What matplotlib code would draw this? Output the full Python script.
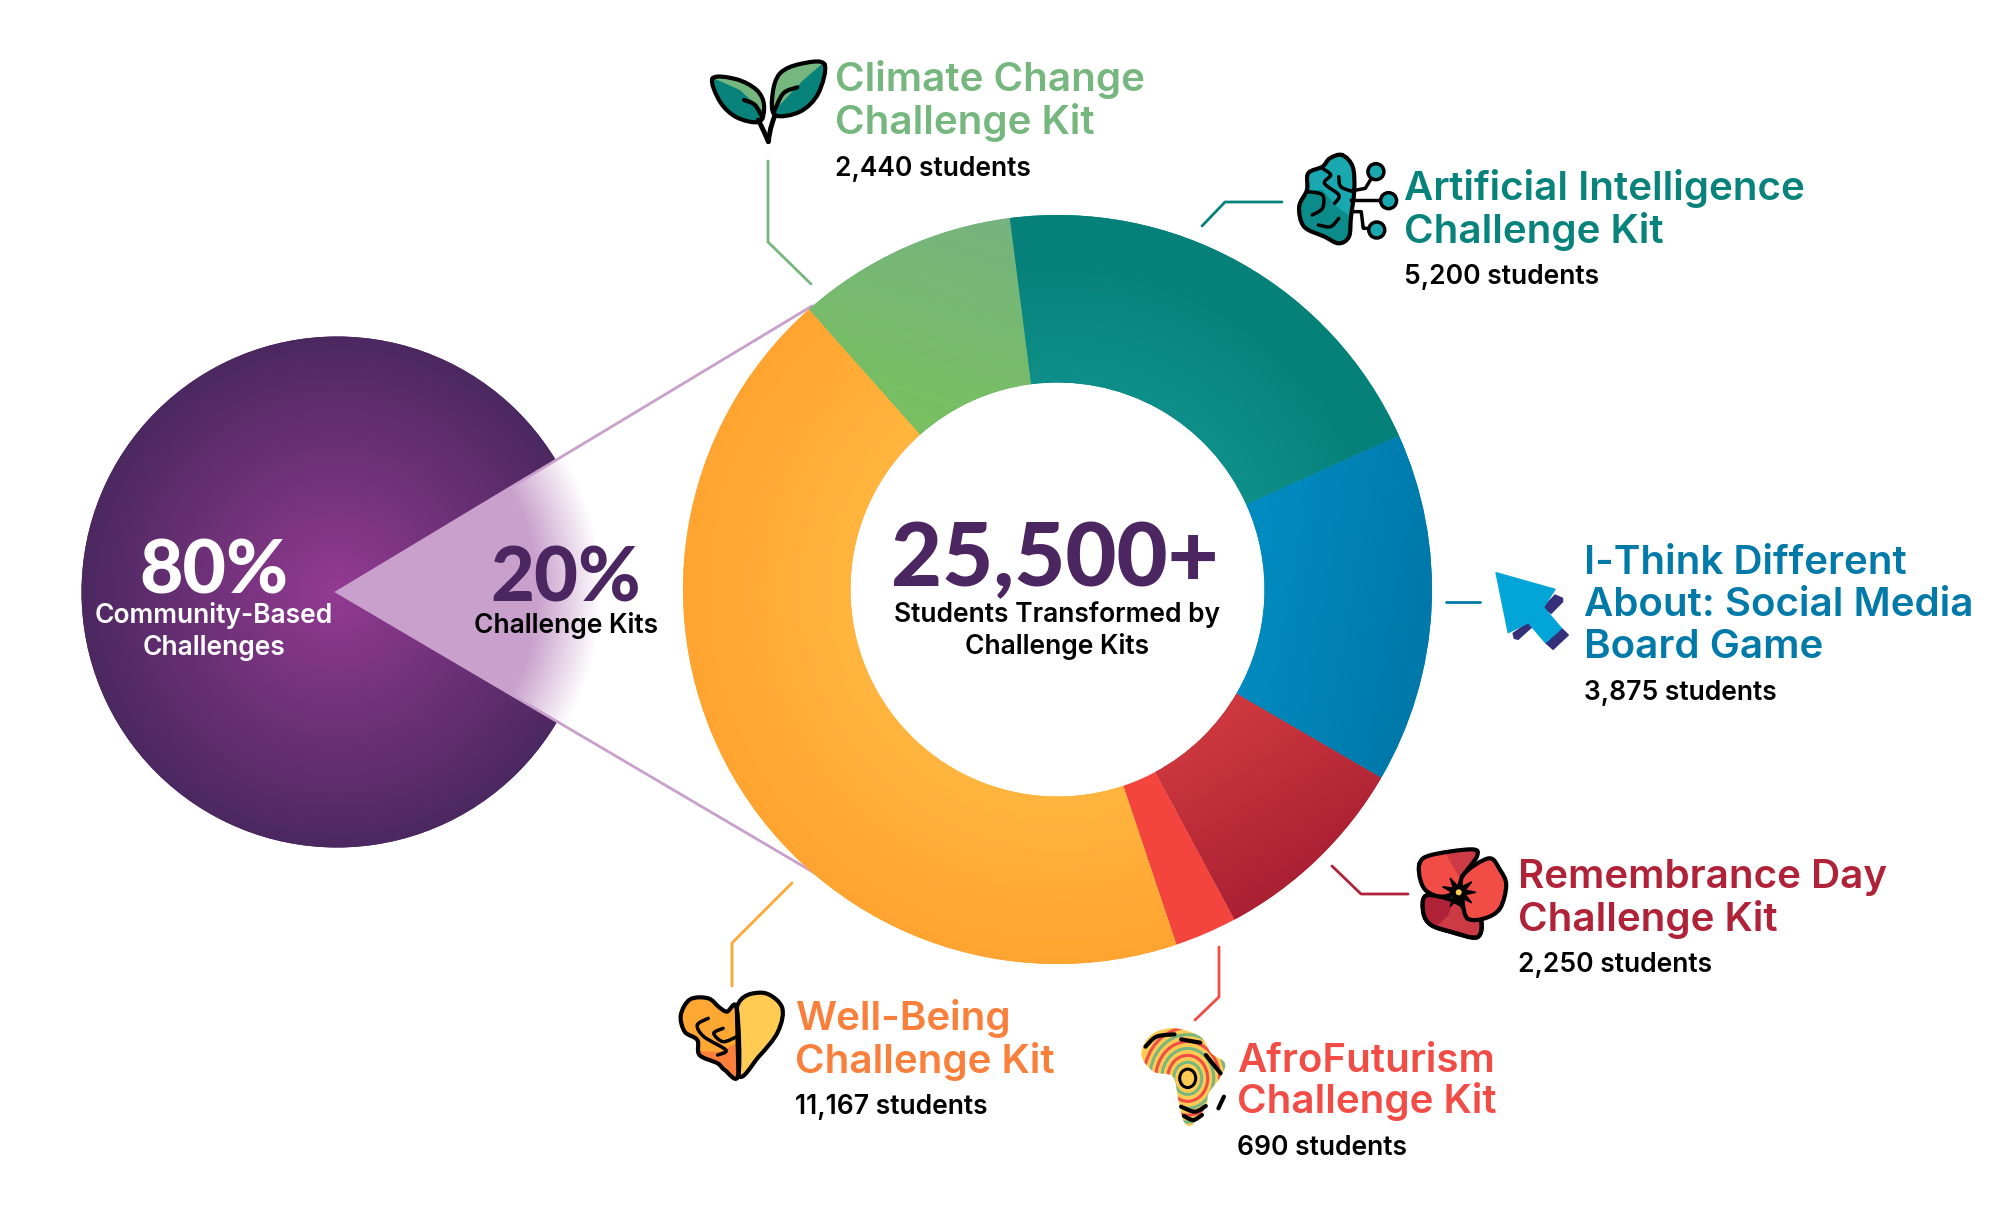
import numpy as np
import matplotlib
matplotlib.use('Agg')
import matplotlib.pyplot as plt
from matplotlib.colors import to_rgb
from matplotlib.patches import Circle, Ellipse, PathPatch, Polygon
from matplotlib.path import Path

plt.rcParams['font.family'] = ['Inter', 'DejaVu Sans']

# data
kit_titles = [
    ['Climate Change', 'Challenge Kit'],
    ['Artificial Intelligence', 'Challenge Kit'],
    ['I-Think Different', 'About: Social Media', 'Board Game'],
    ['Remembrance Day', 'Challenge Kit'],
    ['AfroFuturism', 'Challenge Kit'],
    ['Well-Being', 'Challenge Kit'],
]
kit_students = [2440, 5200, 3875, 2250, 690, 11167]
total_label = '25,500+'
total_caption = ['Students Transformed by', 'Challenge Kits']
share_values = ['80%', '20%']
share_labels = [['Community-Based', 'Challenges'], ['Challenge Kits']]

# colours
title_colors = ['#76B77F', '#08837C', '#0179A9', '#B02238', '#F24C47', '#F97F3A']
leader_colors = ['#76B77F', '#08837C', '#0179A9', '#B02238', '#F24C47', '#FFA733']
PURPLE = '#4B2660'
LILAC = '#C9A0CC'

W, H = 2016, 1205
fig = plt.figure(figsize=(W / 100, H / 100), dpi=100)
ax = fig.add_axes([0, 0, 1, 1])
cx, cy, r_out, r_in = 1057.5, 589.5, 374.5, 207
px, py, pr = 337, 592, 255.5


def mix(c1, c2, t):
    c1, c2 = np.array(to_rgb(c1)), np.array(to_rgb(c2))
    t = np.clip(t, 0, 1)[..., None]
    return c1 * (1 - t) + c2 * t


def paint(t_func, c1, c2, clip, box, z):
    # gradient image clipped to a patch
    x0, x1, y0, y1 = box
    xx, yy = np.meshgrid(np.arange(x0, x1) + .5, np.arange(y0, y1) + .5)
    im = ax.imshow(mix(c1, c2, t_func(xx, yy)), extent=(x0, x1, y1, y0), origin='upper',
                   zorder=z, interpolation='bilinear', aspect='auto')
    im.set_clip_path(clip)


def linear(p1, p2):
    d = np.array(p2) - np.array(p1)
    return lambda x, y: ((x - p1[0]) * d[0] + (y - p1[1]) * d[1]) / (d @ d)


def radial(c, r0, r1):
    return lambda x, y: (np.hypot(x - c[0], y - c[1]) - r0) / (r1 - r0)


# left circle
circle = Circle((px, py), pr, fc=PURPLE, ec='none', zorder=1)
ax.add_patch(circle)
paint(radial((px, py), 0, pr), '#933B92', '#4C2860', circle, (70, 600, 330, 855), 1.1)

# 20% wedge, fades out to white
tri = Polygon([(px, py), (812, 306), (823, 878)], fc='white', ec='none', zorder=2)
ax.add_patch(tri)
paint(radial((px, py), 200, 265), LILAC, '#FFFFFF', tri, (330, 830, 300, 885), 2.1)
ax.plot([812, px, 823], [306, py, 878], color=LILAC, lw=2, zorder=2.2, solid_joinstyle='miter')

# donut, clockwise from the upper left
wedges, _ = ax.pie(kit_students, center=(cx, cy), radius=r_out, startangle=-131.6, counterclock=True,
                   colors=['#76B77F', '#08837C', '#0288BE', '#B82A39', '#F3443E', '#FFAB35'],
                   wedgeprops=dict(width=r_out - r_in, lw=0), normalize=True)
for w in wedges:
    w.set_zorder(3)
box = (670, 1445, 205, 975)
paint(linear((1010, 230), (950, 420)), '#76B47F', '#78BF62', wedges[0], box, 3.1)
paint(radial((cx, cy), r_in, r_out - 40), '#0F8F89', '#06817A', wedges[1], box, 3.1)
paint(linear((1260, 560), (1430, 590)), '#028BC0', '#0078A9', wedges[2], box, 3.1)
paint(linear((1180, 720), (1290, 900)), '#D13B3F', '#A81E33', wedges[3], box, 3.1)
paint(radial((cx, cy), r_in, r_out), '#FFB63E', '#FFA430', wedges[5], box, 3.1)

# leader lines
leaders = [
    [(768, 161), (768, 242), (811, 284)],
    [(1202, 226), (1225, 202), (1282, 202)],
    [(1446, 602), (1480, 602)],
    [(1332, 866), (1361, 894), (1408, 894)],
    [(1219, 947), (1219, 997), (1195, 1020)],
    [(792, 883), (732, 943), (732, 986)],
]
for pts, col in zip(leaders, leader_colors):
    ax.plot(*zip(*pts), color=col, lw=2, zorder=4, solid_capstyle='round')


def line_text(x, y, s, size, color, weight=600, ha='left', family='Inter'):
    ax.text(x, y, s, fontsize=size, color=color, fontweight=weight, ha=ha, va='baseline', zorder=6,
            family=[family, 'DejaVu Sans'])


# kit labels: x, baseline of each title line, baseline of students
label_pos = [
    (835, [91, 134], 176),
    (1404, [200, 243], 284),
    (1584, [574, 616, 658], 700),
    (1518, [888, 931], 972),
    (1237, [1072, 1113], 1155),
    (795, [1030, 1073], 1114),
]
for (x, ys, y_s), lines, n, col in zip(label_pos, kit_titles, kit_students, title_colors):
    for y, s in zip(ys, lines):
        line_text(x, y, s, 29, col)
    line_text(x, y_s, f'{n:,} students', 19, 'black')

# centre and left texts
line_text(1055, 586, total_label, 63.5, PURPLE, 'black', 'center', 'Lato')
line_text(1057, 622, total_caption[0], 19, 'black', 600, 'center')
line_text(1057, 654, total_caption[1], 19, 'black', 600, 'center')
line_text(214, 593, share_values[0], 54, 'white', 'black', 'center', 'Lato')
line_text(214, 623, share_labels[0][0], 19, 'white', 600, 'center')
line_text(214, 655, share_labels[0][1], 19, 'white', 600, 'center')
line_text(566, 602, share_values[1], 54.5, PURPLE, 'black', 'center', 'Lato')
line_text(566, 633, share_labels[1][0], 19, 'black', 600, 'center')


# icons
def smooth(pts, closed=True):
    # catmull-rom through the points
    pts = [np.array(p, float) for p in pts]
    n = len(pts)
    verts, codes = [pts[0]], [Path.MOVETO]
    for i in range(n if closed else n - 1):
        p0 = pts[(i - 1) % n] if closed or i > 0 else pts[i]
        p1 = pts[i]
        p2 = pts[(i + 1) % n]
        p3 = pts[(i + 2) % n] if closed or i + 2 < n else p2
        verts += [p1 + (p2 - p0) / 6, p2 - (p3 - p1) / 6, p2]
        codes += [Path.CURVE4] * 3
    return Path(verts, codes)


def shape(path, fc, ec='black', lw=3, z=5):
    p = PathPatch(path, fc=fc, ec=ec, lw=lw, zorder=z, capstyle='round', joinstyle='round')
    ax.add_patch(p)
    return p


def squiggle(pts, lw=3, color='black', z=5.4):
    shape(smooth(pts, closed=False), 'none', color, lw, z)


def overlay(pts, color, clip, z):
    p = Polygon(pts, fc=color, ec='none', zorder=z)
    ax.add_patch(p)
    p.set_clip_path(clip)


# leaves
lz = lambda pts: [(690 + a / 3, 40 + b / 3) for a, b in pts]
left_leaf = smooth(lz([(68, 115), (140, 118), (200, 150), (222, 195), (208, 245), (140, 232), (90, 185)]))
right_leaf = smooth(lz([(403, 72), (330, 72), (270, 100), (248, 160), (255, 225), (330, 215), (385, 160)]))
for leaf, top in ((left_leaf, [(60, 110), (230, 110), (230, 225), (150, 150)]),
                  (right_leaf, [(240, 60), (410, 60), (340, 120), (250, 215)])):
    back = PathPatch(leaf, fc='#08837C', ec='none', zorder=5)
    ax.add_patch(back)
    overlay(lz(top), '#76B77F', back, 5.1)
    shape(leaf, 'none', 'black', 3, 5.3)
squiggle(lz([(205, 240), (222, 275), (235, 305)]), 3.5)
squiggle(lz([(255, 225), (242, 265), (235, 305)]), 3.5)
squiggle(lz([(162, 180), (195, 195), (218, 235)]), 3)
squiggle(lz([(322, 142), (280, 160), (252, 215)]), 3)

# brain
bz = lambda pts: [(1200 + a / 2.45, 140 + b / 3) for a, b in pts]
brain = smooth(bz([(348, 45), (374, 80), (378, 150), (370, 230), (365, 290), (340, 310), (305, 290),
                   (255, 260), (243, 200), (262, 150), (265, 100), (300, 80), (318, 55)]))
back = PathPatch(brain, fc='#1AA8B0', ec='none', zorder=5)
ax.add_patch(back)
overlay(bz([(235, 150), (300, 150), (335, 200), (380, 240), (380, 320), (235, 320)]), '#0B8C8A', back, 5.1)
shape(brain, 'none', 'black', 3, 5.3)
squiggle(bz([(300, 85), (320, 105), (305, 130), (340, 165), (330, 190)]), 2.5)
squiggle(bz([(340, 110), (345, 140), (375, 155)]), 2.5)
squiggle(bz([(265, 155), (300, 165), (300, 205), (275, 225)]), 2.5)
squiggle(bz([(340, 235), (320, 260), (290, 255)]), 2.5)
ax.plot(*zip(*bz([(375, 152), (405, 145), (425, 105)])), color='black', lw=2.5, zorder=5.2)
ax.plot(*zip(*bz([(370, 180), (445, 180)])), color='black', lw=2.5, zorder=5.2)
ax.plot(*zip(*bz([(375, 215), (395, 215), (400, 265), (420, 265)])), color='black', lw=2.5, zorder=5.2)
for c in bz([(431, 95), (462, 182), (433, 270)]):
    ax.add_patch(Circle(c, 8, fc='#1AA8B0', ec='black', lw=2.5, zorder=5.3))

# cursor
cz = lambda pts: [(1420 + a / 2.63, 520 + b / 3) for a, b in pts]
for pts in ([(355, 225), (375, 235), (375, 245), (345, 280), (325, 262)],
            [(372, 325), (390, 345), (350, 388), (330, 368)],
            [(245, 340), (285, 308), (295, 320), (258, 358), (248, 355)]):
    ax.add_patch(Polygon(cz(pts), fc='#352F7A', ec='#352F7A', lw=1, joinstyle='round', zorder=5))
ax.add_patch(Polygon(cz([(200, 158), (355, 208), (325, 262), (372, 325), (330, 368), (285, 308), (232, 338)]),
                     fc='#02A5D8', ec='#02A5D8', lw=1, joinstyle='round', zorder=5.1))

# poppy
pz = lambda pts: [(1320 + a / 2.61, 820 + b / 3) for a, b in pts]
bottom = smooth(pz([(275, 228), (330, 235), (375, 260), (385, 295), (420, 302), (410, 352), (340, 335),
                    (290, 315), (270, 280)]))
shape(bottom, '#CC3A45', 'black', 3, 5)
b_back = PathPatch(bottom, fc='none', ec='none', zorder=5.05)
ax.add_patch(b_back)
overlay(pz([(265, 225), (350, 240), (335, 285), (300, 325), (265, 320)]), '#B02238', b_back, 5.06)
shape(bottom, 'none', 'black', 3, 5.07)
top = smooth(pz([(260, 130), (290, 105), (395, 88), (410, 108), (375, 165), (362, 210), (320, 230),
                 (280, 215), (262, 180)]))
shape(top, '#F24C47', 'none', 0, 5.1)
t_back = PathPatch(top, fc='none', ec='none', zorder=5.1)
ax.add_patch(t_back)
overlay(pz([(320, 85), (420, 85), (380, 170), (365, 175)]), '#CC3A45', t_back, 5.11)
shape(top, 'none', 'black', 3, 5.12)
shape(smooth(pz([(372, 168), (440, 115), (470, 150), (486, 195), (470, 265), (430, 295), (385, 295),
                 (372, 240)])), '#F24C47', 'black', 3, 5.2)
ang = np.linspace(0, 2 * np.pi, 19)[:-1]
rad = np.array([45, 18] * 9)
sx, sy = 1320 + 362 / 2.61, 820 + 217 / 3
ax.add_patch(Polygon(np.c_[sx + rad * np.cos(ang) / 2.61, sy + rad * np.sin(ang) / 3 * 1.1], fc='black',
                     ec='black', lw=1, zorder=5.3))
ax.add_patch(Circle((sx, sy), 3, fc='#FFCB52', ec='none', zorder=5.4))

# heart + brain
hz = lambda pts: [(660 + a / 1.823, 900 + b / 3) for a, b in pts]
heart = smooth(hz([(140, 322), (185, 278), (222, 320), (215, 395), (180, 470), (143, 525)]))
shape(heart, '#FFCB52', 'black', 3, 5)
hb = smooth(hz([(140, 325), (122, 335), (108, 322), (88, 295), (55, 298), (38, 345), (45, 395), (68, 420),
                (72, 465), (105, 490), (118, 510), (143, 525)]))
hb_p = PathPatch(hb, fc='#FFA733', ec='none', zorder=5.1)
ax.add_patch(hb_p)
overlay(hz([(30, 425), (80, 455), (110, 455), (145, 425), (150, 530), (30, 530)]), '#F97F3A', hb_p, 5.12)
shape(hb, 'none', 'black', 3, 5.14)
ax.plot(*zip(*hz([(140, 320), (143, 525)])), color='black', lw=3, zorder=5.15)
squiggle(hz([(88, 355), (68, 375), (80, 410), (120, 450), (105, 465)]), 2.5)
squiggle(hz([(115, 385), (98, 400), (115, 425), (140, 410)]), 2.5)

# africa
az = lambda pts: [(660 + a / 1.823, 900 + b / 3) for a, b in pts]
africa = smooth(az([(905, 395), (940, 385), (985, 410), (1005, 460), (1030, 490), (1020, 535), (1000, 580),
                    (995, 620), (970, 675), (955, 665), (945, 600), (935, 530), (900, 515), (878, 470),
                    (885, 425)]))
af = PathPatch(africa, fc='#FFCB52', ec='none', zorder=5)
ax.add_patch(af)
ax_c = az([(962, 535)])[0]
for rr, col in zip([8, 14, 20, 26, 32, 38, 44], ['black', '#76B77F', '#F24C47', '#76B77F', '#F24C47', '#76B77F', '#F24C47']):
    e = Ellipse(ax_c, rr * 2, rr * 2.3, fc='none', ec=col, lw=2.2, zorder=5.1)
    ax.add_patch(e)
    e.set_clip_path(af)
for pts in ([(885, 440), (905, 410), (938, 403)], [(950, 418), (985, 428)], [(995, 465), (1022, 520)],
            [(950, 620), (975, 635), (995, 618)], [(955, 648), (972, 660), (988, 645)], [(1028, 590), (1018, 625)]):
    squiggle(az(pts), 3)

ax.set_xlim(0, W)
ax.set_ylim(H, 0)
ax.set_aspect('auto')
ax.axis('off')
fig.savefig('out.png', dpi=100, facecolor='white')
